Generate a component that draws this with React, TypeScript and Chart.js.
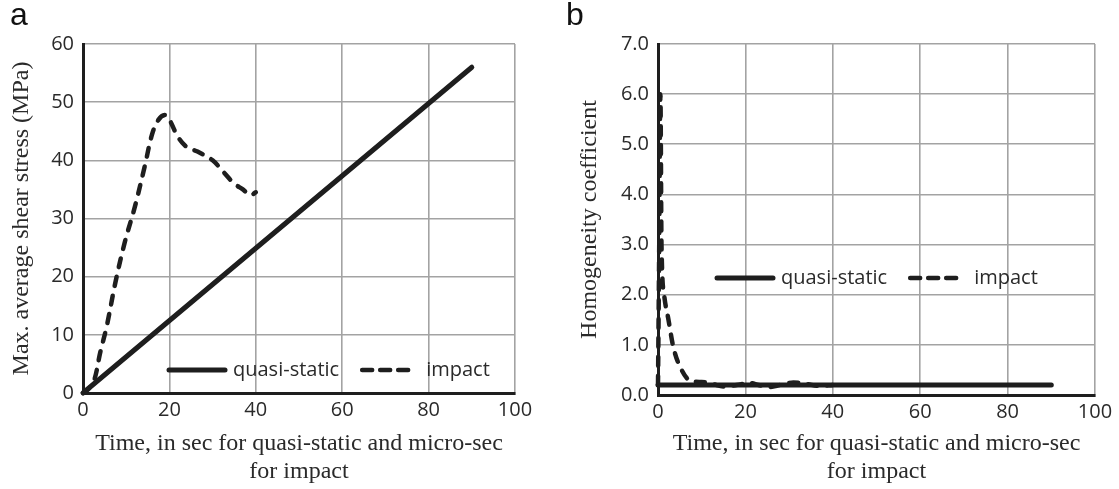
import React, { useEffect, useRef } from "react";
import { Chart, registerables } from "chart.js";

Chart.register(...registerables);

const W = 1119;
const H = 489;

// Series names
const seriesNames = ["quasi-static", "impact"];

// Panel a: max. average shear stress
const aXTicks = [0, 20, 40, 60, 80, 100];
const aYTicks = [0, 10, 20, 30, 40, 50, 60];
const aQuasiX = [0, 90];
const aQuasiY = [0, 56];
const aImpactX = [0, 1, 2.5, 4, 5.5, 7.5, 9.7, 12, 14.3, 16, 17.5, 19, 20, 22, 24, 26.5, 30, 32.5, 35, 37, 38.7, 40];
const aImpactY = [0, 0.5, 2, 7, 11.5, 19, 26, 32, 39, 44.5, 47, 47.8, 47, 44, 42.3, 41.5, 40, 38, 36, 35, 34, 34.5];

// Panel b: homogeneity coefficient
const bXTicks = [0, 20, 40, 60, 80, 100];
const bYTicks = [0, 1, 2, 3, 4, 5, 6, 7];
const bQuasiX = [0, 90];
const bQuasiY = [0.2, 0.2];
const bImpactX = [0, 0.3, 0.55, 0.8, 1.4, 2.4, 3.5, 5.4, 7.7, 10, 12.5, 15, 18, 21, 23, 25.5, 28, 31, 34, 37, 40];
const bImpactY = [0.2, 3.2, 6.0, 3.0, 2.0, 1.5, 0.96, 0.5, 0.27, 0.26, 0.22, 0.17, 0.2, 0.24, 0.2, 0.16, 0.2, 0.25, 0.22, 0.18, 0.2];

const xTitle = ["Time, in sec for quasi-static and micro-sec", "for impact"];
const aYTitle = "Max. average shear stress (MPa)";
const bYTitle = "Homogeneity coefficient";

const LINE = "#1e1e1e";
const GRID = "#a3a3a3";
const TEXT = "#2a2a2a";

function legendPlugin(dx: number, dy: number, fromTop: boolean) {
  return {
    id: "inlineLegend",
    afterDraw(chart: any) {
      const { ctx, chartArea } = chart;
      const x0 = chartArea.left + dx;
      const y = fromTop ? chartArea.top + dy : chartArea.bottom - dy;
      ctx.save();
      ctx.font = '20px "Open Sans"';
      ctx.textBaseline = "middle";
      ctx.fillStyle = TEXT;
      ctx.strokeStyle = LINE;
      ctx.lineCap = "round";
      let x = x0;
      // solid sample
      ctx.lineWidth = 5;
      ctx.setLineDash([]);
      ctx.beginPath();
      ctx.moveTo(x + 2, y);
      ctx.lineTo(x + 58, y);
      ctx.stroke();
      x += 66;
      ctx.fillText(chart.data.datasets[0].label, x, y);
      x += ctx.measureText(chart.data.datasets[0].label).width + 21;
      // dashed sample
      ctx.lineWidth = 4.5;
      ctx.setLineDash([10, 8]);
      ctx.beginPath();
      ctx.moveTo(x + 2, y);
      ctx.lineTo(x + 54, y);
      ctx.stroke();
      ctx.setLineDash([]);
      x += 66;
      ctx.fillText(chart.data.datasets[1].label, x, y);
      ctx.restore();
    },
  };
}

type Panel = {
  qx: number[];
  qy: number[];
  ix: number[];
  iy: number[];
  xTicks: number[];
  yTicks: number[];
  yMax: number;
  yFmt: (v: number) => string;
  yTitle: string;
  yAxisW: number;
  yTitlePad: number;
  xAxisH: number;
  padTop: number;
  padRight: number;
  legend: [number, number, boolean];
  monotone: boolean;
};

function buildConfig(p: Panel): any {
  const tickFont = { family: '"Open Sans"', size: 20 };
  return {
    type: "line",
    data: {
      datasets: [
        {
          label: seriesNames[0],
          data: p.qx.map((x, i) => ({ x, y: p.qy[i] })),
          borderColor: LINE,
          borderWidth: 5,
          pointRadius: 0,
          tension: 0,
          borderCapStyle: "round",
          borderJoinStyle: "round",
          clip: false,
          order: 0,
        },
        {
          label: seriesNames[1],
          data: p.ix.map((x, i) => ({ x, y: p.iy[i] })),
          borderColor: LINE,
          borderWidth: 4.5,
          borderDash: [9, 10],
          pointRadius: 0,
          tension: 0.35,
          cubicInterpolationMode: p.monotone ? "monotone" : "default",
          borderCapStyle: "round",
          borderJoinStyle: "round",
          clip: false,
          order: 1,
        },
      ],
    },
    options: {
      responsive: false,
      animation: false,
      devicePixelRatio: 1,
      layout: { padding: { left: 0, top: p.padTop, right: p.padRight, bottom: 0 } },
      plugins: { legend: { display: false }, tooltip: { enabled: false } },
      scales: {
        x: {
          type: "linear",
          min: 0,
          max: 100,
          afterBuildTicks: (s: any) => {
            s.ticks = p.xTicks.map((v) => ({ value: v }));
          },
          afterFit: (s: any) => {
            s.height = p.xAxisH;
          },
          grid: { color: GRID, lineWidth: 1.6, drawTicks: false },
          border: { color: LINE, width: 3 },
          ticks: { padding: 5, font: tickFont, color: TEXT, maxRotation: 0 },
          title: {
            display: true,
            text: xTitle,
            color: TEXT,
            font: { family: '"Liberation Serif"', size: 24, lineHeight: 1.18 },
            padding: { top: 0, bottom: 3 },
          },
        },
        y: {
          type: "linear",
          min: 0,
          max: p.yMax,
          afterBuildTicks: (s: any) => {
            s.ticks = p.yTicks.map((v) => ({ value: v }));
          },
          afterFit: (s: any) => {
            s.width = p.yAxisW;
          },
          grid: { color: GRID, lineWidth: 1.6, drawTicks: false },
          border: { color: LINE, width: 3 },
          ticks: { padding: 9, font: tickFont, color: TEXT, callback: (v: number) => p.yFmt(v) },
          title: {
            display: true,
            text: p.yTitle,
            color: TEXT,
            font: { family: '"Liberation Serif"', size: 24, lineHeight: 1.2 },
            padding: { top: p.yTitlePad, bottom: 0 },
          },
        },
      },
    },
    plugins: [legendPlugin(p.legend[0], p.legend[1], p.legend[2])],
  };
}

export default function App() {
  const refA = useRef<HTMLCanvasElement>(null);
  const refB = useRef<HTMLCanvasElement>(null);

  useEffect(() => {
    const ca = new Chart(
      refA.current as HTMLCanvasElement,
      buildConfig({
        qx: aQuasiX,
        qy: aQuasiY,
        ix: aImpactX,
        iy: aImpactY,
        xTicks: aXTicks,
        yTicks: aYTicks,
        yMax: 60,
        yFmt: (v) => String(v),
        yTitle: aYTitle,
        yAxisW: 83,
        yTitlePad: 7,
        xAxisH: 96,
        padTop: 44,
        padRight: 45,
        legend: [84, 23, false],
        monotone: false,
      })
    );
    const cb = new Chart(
      refB.current as HTMLCanvasElement,
      buildConfig({
        qx: bQuasiX,
        qy: bQuasiY,
        ix: bImpactX,
        iy: bImpactY,
        xTicks: bXTicks,
        yTicks: bYTicks,
        yMax: 7,
        yFmt: (v) => v.toFixed(1),
        yTitle: bYTitle,
        yAxisW: 98,
        yTitlePad: 15,
        xAxisH: 94,
        padTop: 44,
        padRight: 24,
        legend: [57, 234, true],
        monotone: true,
      })
    );
    return () => {
      ca.destroy();
      cb.destroy();
    };
  }, []);

  const letter: React.CSSProperties = {
    position: "absolute",
    top: -2,
    font: '32px "Liberation Sans"',
    lineHeight: "32px",
    color: "#111",
  };

  return (
    <div style={{ position: "fixed", left: 0, top: 0, width: W, height: H, background: "#fff", overflow: "hidden" }}>
      <canvas ref={refA} width={560} height={489} style={{ position: "absolute", left: 0, top: 0, width: 560, height: 489 }} />
      <canvas ref={refB} width={559} height={489} style={{ position: "absolute", left: 560, top: 0, width: 559, height: 489 }} />
      <div style={{ ...letter, left: 10 }}>a</div>
      <div style={{ ...letter, left: 566 }}>b</div>
    </div>
  );
}
